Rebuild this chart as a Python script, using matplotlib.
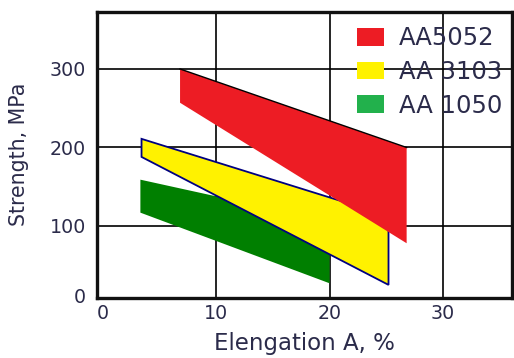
import matplotlib
matplotlib.use("Agg")
import matplotlib.pyplot as plt
from matplotlib.patches import Patch

# strength bands vs elongation for three aluminium alloys
alloys = ["AA5052", "AA 3103", "AA 1050"]
elong_min = [6.8, 3.4, 3.3]
elong_max = [26.8, 25.2, 20.0]
upper_start = [300, 211, 159]
upper_end = [200, 113, 106]
lower_start = [257, 188, 117]
lower_end = [78, 25, 27]

fill_colors = ["#ED1C24", "#FFF200", "#007F00"]
edge_colors = ["none", "#000080", "none"]
legend_colors = ["#ED1C24", "#FFF200", "#22B14C"]

x_ticks = [0, 10, 20, 30]
y_ticks = [100, 200, 300]

TEXT = "#2b2b4a"
plt.rcParams["font.family"] = ["DejaVu Sans"]

fig = plt.figure(figsize=(5.14, 3.58), dpi=100)
ax = fig.add_axes([97 / 514, 60.5 / 358, 415 / 514, 285.5 / 358])
ax.set_xlim(-0.53, 36.1)
ax.set_ylim(8.9, 372.6)

# green first, red last so the bands overlap like the original sketch
for i in [2, 1, 0]:
    xs = [elong_min[i], elong_max[i], elong_max[i], elong_min[i]]
    ys = [upper_start[i], upper_end[i], lower_end[i], lower_start[i]]
    ax.fill(xs, ys, facecolor=fill_colors[i], edgecolor=edge_colors[i],
            linewidth=1.3, zorder=3)
    if i == 0:
        ax.plot(xs[:2], ys[:2], color="black", lw=1.0, zorder=4)

ax.set_xticks(x_ticks)
ax.set_yticks(y_ticks)
ax.grid(True, color="black", lw=1.2, zorder=1)
ax.get_xgridlines()[0].set_visible(False)
ax.set_axisbelow(True)

ax.tick_params(length=0, labelsize=13.7, labelcolor=TEXT)
ax.tick_params(axis="y", pad=8)
ax.tick_params(axis="x", pad=5)
ax.text(-0.028, 0.0, "0", transform=ax.transAxes, ha="right", va="center",
        fontsize=13.7, color=TEXT)

for side in ax.spines.values():
    side.set_linewidth(2.4)
    side.set_color("#111111")

ax.set_xlabel("Elengation A, %", fontsize=16.5, color=TEXT, labelpad=6)
ax.set_ylabel("Strength, MPa", fontsize=14.8, color=TEXT, labelpad=15)

handles = [Patch(facecolor=c, edgecolor="none") for c in legend_colors]
ax.legend(handles, alloys, loc="upper left", bbox_to_anchor=(0.627, 0.95),
          frameon=False, fontsize=17.5, handlelength=1.11, handleheight=0.74,
          handletextpad=0.6, labelspacing=0.4, borderpad=0, borderaxespad=0,
          labelcolor=TEXT)

fig.savefig("out.png", dpi=100)
